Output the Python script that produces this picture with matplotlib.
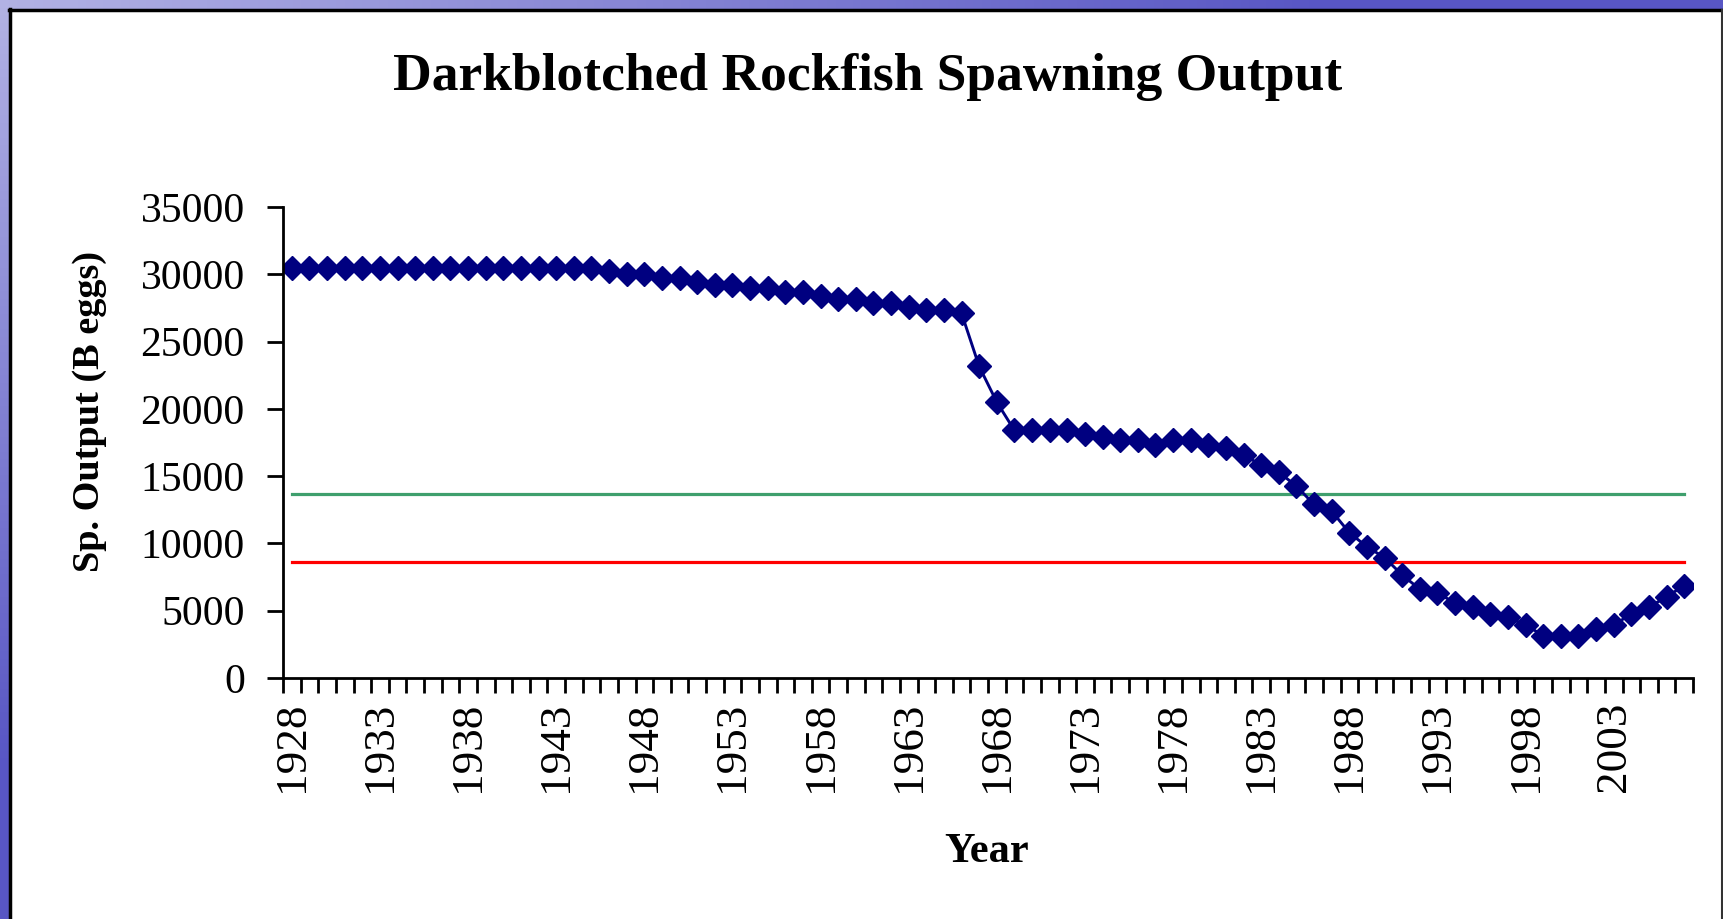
import numpy as np
import matplotlib
matplotlib.use("Agg")
import matplotlib.pyplot as plt
from matplotlib.patches import Rectangle

plt.rcParams['font.family'] = ['Liberation Serif', 'DejaVu Serif']

# spawning output by year (B eggs)
years = np.arange(1928, 2008)
spawn = [30500] * 18 + [
    30250, 30000, 30000, 29750, 29750, 29450, 29200, 29200, 28950, 28950,   # 1946-1955
    28700, 28700, 28400, 28150, 28150, 27900, 27900, 27600, 27350, 27350,   # 1956-1965
    27100, 23150, 20500, 18400, 18400, 18400, 18400, 18150, 17900, 17650,   # 1966-1975
    17650, 17350, 17650, 17650, 17350, 17100, 16600, 15800, 15300, 14250,   # 1976-1985
    12900, 12400, 10800, 9750, 8950, 7650, 6600, 6350, 5550, 5250,          # 1986-1995
    4750, 4500, 3950, 3150, 3150, 3150, 3650, 3950, 4750, 5250,             # 1996-2005
    6050, 6850,                                                             # 2006-2007
]
target_level = 13700   # green reference line
limit_level = 8650     # red reference line

y_ticks = np.arange(0, 35001, 5000)
label_every = 5

W, H = 1723, 919
fig = plt.figure(figsize=(W / 100, H / 100), dpi=100)

# slide background + white chart area
bg = fig.add_axes([0, 0, 1, 1], zorder=0)
gx, gy = np.meshgrid(np.linspace(0, 1, 200), np.linspace(0, 1, 120))
t = np.clip(gx * 1.3 + gy * 1.2, 0, 1)[..., None]
light = np.array([178, 178, 228]) / 255
dark = np.array([88, 86, 196]) / 255
bg.imshow(light * (1 - t) + dark * t, extent=(0, W, H, 0), aspect='auto')
bg.add_patch(Rectangle((10, 10), W - 11, H, facecolor='white', edgecolor='none'))
bg.plot([9.5, 9.5], [9, H], color='black', lw=2.5)
bg.plot([9, W - 1], [9.5, 9.5], color='black', lw=2.5)
bg.plot([W - 1.5, W - 1.5], [10, H], color='#333333', lw=1.5)
bg.set_xlim(0, W)
bg.set_ylim(H, 0)
bg.axis('off')

ax = fig.add_axes([283 / W, 1 - 678 / H, 1410 / W, 471 / H], zorder=1)
ax.set_facecolor('none')

idx = np.arange(len(years))
ax.plot(idx, np.full(len(years), target_level), color='#3f9f6d', lw=2.3)
ax.plot(idx, np.full(len(years), limit_level), color='#ff0000', lw=2.3)
ax.plot(idx, spawn, color='#000080', lw=2.1, marker='D', ms=11.8,
        mfc='#000080', mec='#000080', mew=1)

ax.set_xlim(-0.5, len(years) - 0.5)
ax.set_ylim(0, 35000)

for s in ['top', 'right']:
    ax.spines[s].set_visible(False)
for s in ['left', 'bottom']:
    ax.spines[s].set_linewidth(2)

ax.set_yticks(y_ticks)
ax.set_yticklabels([str(v) for v in y_ticks])
ax.tick_params(axis='y', direction='out', length=11.5, width=2,
               labelsize=30, pad=16)

# tick marks between categories, labels at every 5th category
ax.set_xticks(np.arange(len(years) + 1) - 0.5)
ax.set_xticklabels([])
ax.tick_params(axis='x', which='major', direction='out', length=11, width=2)
lab_idx = idx[::label_every]
ax.set_xticks(lab_idx, minor=True)
ax.set_xticklabels([str(y) for y in years[::label_every]], minor=True,
                   rotation=90, fontsize=32.5, va='top')
ax.tick_params(axis='x', which='minor', length=0, pad=17)

fig.text(868 / W, 1 - 90 / H, 'Darkblotched Rockfish Spawning Output',
         ha='center', va='baseline', fontsize=38.5, fontweight='bold')
fig.text(90 / W, 1 - 412 / H, 'Sp. Output (B eggs)', rotation=90,
         ha='center', va='center', fontsize=27.5, fontweight='bold')
fig.text(987 / W, 1 - 862 / H, 'Year', ha='center', va='baseline',
         fontsize=30.5, fontweight='bold')

fig.savefig('out.png', dpi=100)
